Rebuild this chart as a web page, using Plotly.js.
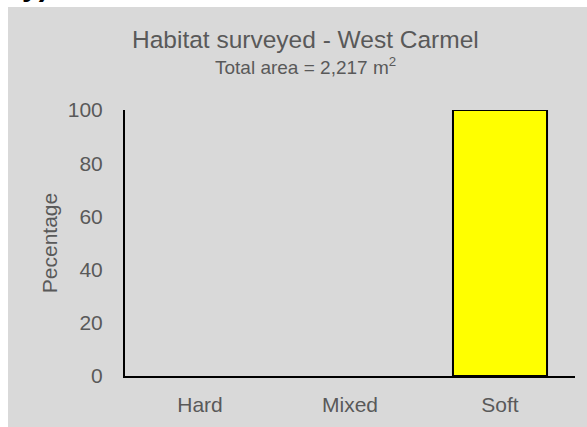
<!DOCTYPE html>
<html>
<head>
<meta charset="utf-8">
<script src="https://cdn.plot.ly/plotly-3.0.1.min.js"></script>
<style>
  html, body { margin: 0; padding: 0; background: #ffffff; width: 587px; height: 427px; overflow: hidden; position: relative; }
  #frag { position: absolute; left: 22px; top: -29px; font-family: "Liberation Sans", Arial, sans-serif; font-weight: bold; font-size: 30px; color: #000; line-height: 30px; }
  #chart { position: absolute; left: 8px; top: 7px; width: 579px; height: 420px; }
</style>
</head>
<body>
<div id="frag">y)</div>
<div id="chart"></div>
<script>
const categories = ["Hard", "Mixed", "Soft"];
const percentages = [0, 0, 100];
const yTicks = [0, 20, 40, 60, 80, 100];

const FONT = '"Liberation Sans", Arial, sans-serif';
const GREY = '#595959';

const trace = {
  type: 'bar',
  x: categories,
  y: percentages,
  marker: {
    color: '#ffff00',
    line: { color: '#000000', width: percentages.map(v => (v > 0 ? 2 : 0)) }
  },
  hoverinfo: 'x+y'
};

const layout = {
  width: 579,
  height: 420,
  margin: { l: 117, r: 12, t: 103, b: 51, pad: 0 },
  paper_bgcolor: '#d9d9d9',
  plot_bgcolor: 'rgba(0,0,0,0)',
  bargap: 0.373,
  showlegend: false,
  font: { family: FONT, color: GREY },
  xaxis: {
    type: 'category',
    showgrid: false,
    zeroline: false,
    showline: true,
    linecolor: '#000000',
    linewidth: 2,
    ticks: '',
    tickfont: { family: FONT, size: 21, color: GREY },
    ticklabelstandoff: 9
  },
  yaxis: {
    range: [0, 100],
    tickvals: yTicks,
    showgrid: false,
    zeroline: false,
    showline: true,
    linecolor: '#000000',
    linewidth: 2,
    ticks: '',
    ticklabelstandoff: 16,
    tickfont: { family: FONT, size: 21, color: GREY },
    title: { text: 'Pecentage', font: { family: FONT, size: 21, color: GREY }, standoff: 4 }
  },
  annotations: [
    {
      xref: 'paper', yref: 'paper', x: 0.4, y: 1.205, xanchor: 'center', yanchor: 'bottom',
      text: 'Habitat surveyed - West Carmel', showarrow: false,
      font: { family: FONT, size: 24.5, color: GREY }
    },
    {
      xref: 'paper', yref: 'paper', x: 0.4, y: 1.112, xanchor: 'center', yanchor: 'bottom',
      text: 'Total area = 2,217 m<sup>2</sup>', showarrow: false,
      font: { family: FONT, size: 19, color: GREY }
    }
  ]
};

Plotly.newPlot('chart', [trace], layout, { displayModeBar: false, staticPlot: true });
</script>
</body>
</html>
